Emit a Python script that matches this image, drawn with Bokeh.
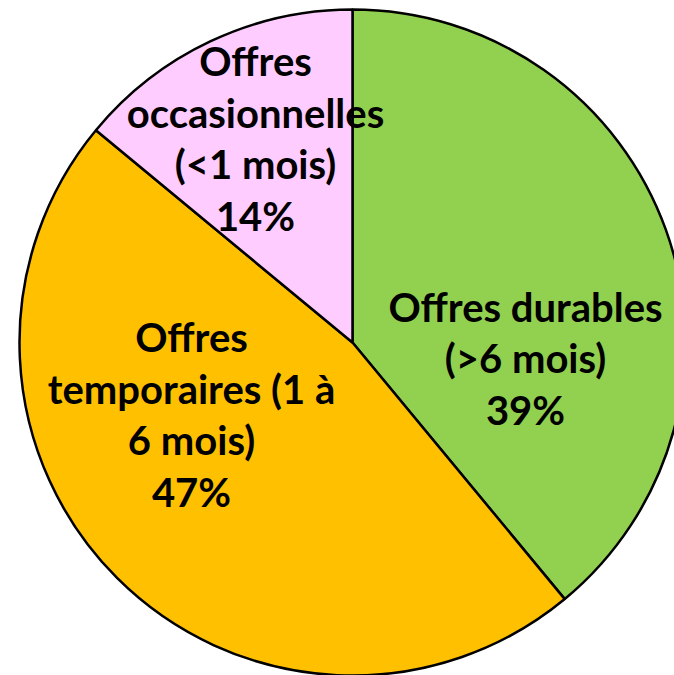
import math
from bokeh.plotting import figure
from bokeh.models import Range1d, ColumnDataSource
from bokeh.core.properties import value
from bokeh.embed import file_html
from bokeh.resources import INLINE

categories = ["Offres durables\n(>6 mois)", "Offres\ntemporaires (1 à\n6 mois)", "Offres\noccasionnelles\n(<1 mois)"]
shares = [39, 47, 14]
colors = ["#92D050", "#FFC000", "#FFCCFF"]

W, H = 674, 675
p = figure(width=W, height=H, output_backend="svg", toolbar_location=None,
           x_range=Range1d(0, W), y_range=Range1d(0, H), min_border=0)
p.axis.visible = False
p.grid.visible = False
p.outline_line_color = None
p.background_fill_color = "white"

cx, cy, r = 352, H - 342, 333
total = sum(shares)
starts, ends = [], []
a = math.pi / 2
for s in shares:
    starts.append(a)
    a -= s / total * 2 * math.pi
    ends.append(a)

src = ColumnDataSource(dict(start=starts, end=ends, color=colors))
p.wedge(x=cx, y=cy, radius=r, start_angle="start", end_angle="end", direction="clock",
        fill_color="color", line_color="black", line_width=2.5, source=src)

# label anchor points (page layout, screen coords)
label_pos = [(525, 358), (191, 414), (255, 138)]
texts = [f"{c}\n{s}%" for c, s in zip(categories, shares)]
p.text(x=[q[0] for q in label_pos], y=[H - q[1] for q in label_pos], text=texts,
       text_font=value("Lato"), text_font_style="bold", text_font_size="40px",
       text_align="center", text_baseline="middle", text_line_height=1.08,
       text_color="black")

open("out.html", "w").write(file_html(p, INLINE))
